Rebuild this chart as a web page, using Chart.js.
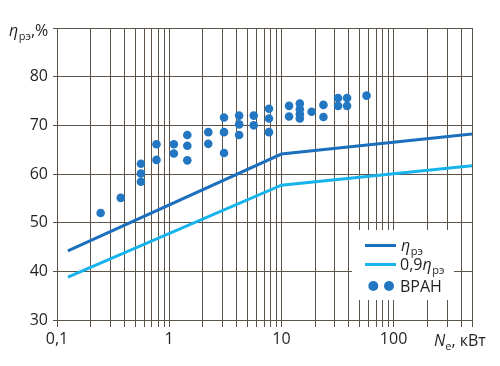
<!DOCTYPE html>
<html>
<head>
<meta charset="utf-8">
<script src="https://cdn.jsdelivr.net/npm/chart.js@4/dist/chart.umd.min.js"></script>
<style>
  html, body { margin: 0; padding: 0; background: #fff; }
  #wrap { width: 500px; height: 366px; }
</style>
</head>
<body>
<div id="wrap"><canvas id="chart" width="500" height="366"></canvas></div>
<script>
// efficiency lines (straight on log x), Ne in kW
const etaX = [0.125, 10, 500];
const etaY = [44.2, 64.1, 68.2];
const eta09X = [0.125, 10, 500];
const eta09Y = [38.8, 57.7, 61.7];

// ВРАН measured points
const vranX = [0.245, 0.37, 0.56, 0.56, 0.56, 0.77, 0.77, 1.1, 1.1, 1.45, 1.45, 1.45,
  2.23, 2.23, 3.08, 3.08, 3.08, 4.2, 4.2, 4.2, 5.67, 5.67, 7.75, 7.75, 7.75,
  11.7, 11.7, 14.6, 14.6, 14.6, 14.6, 18.6, 23.7, 23.7, 32, 32, 38.5, 38.5, 57.4];
const vranY = [52.0, 55.1, 62.1, 60.1, 58.4, 66.1, 62.9, 66.1, 64.2, 68.0, 65.8, 62.8,
  68.6, 66.2, 71.6, 68.6, 64.3, 72.0, 70.2, 68.0, 72.0, 70.0, 73.4, 71.4, 68.6,
  74.0, 71.8, 74.5, 73.3, 72.3, 71.4, 72.8, 74.2, 71.7, 75.6, 74.0, 75.6, 74.0, 76.1];

// axis ticks
const xTicks = [0.1, 0.2, 0.3, 0.4, 0.5, 0.6, 0.7, 0.8, 0.9,
  1, 2, 3, 4, 5, 6, 7, 8, 9,
  10, 20, 30, 40, 50, 60, 70, 80, 90,
  100, 200, 300, 400, 500];
const xLabels = { 0.1: "0,1", 1: "1", 10: "10", 100: "100" };
const yLabels = [30, 40, 50, 60, 70, 80];

const gridColor = "#5c5349";
const textColor = "#231f20";
const darkBlue = "#1b6fbd";
const lightBlue = "#16b3ec";
const dotColor = "#2276c2";
const FONT = '"Open Sans", sans-serif';

function pairs(xs, ys) { return xs.map((x, i) => ({ x, y: ys[i] })); }

// draws "η" italic followed by subscript "рэ", returns end x
function drawEta(ctx, x, y, size) {
  ctx.font = "italic " + size + "px " + FONT;
  ctx.fillText("η", x, y);
  x += ctx.measureText("η").width + 0.5;
  const sub = Math.round(size * 0.66);
  ctx.font = sub + "px " + FONT;
  ctx.fillText("рэ", x, y + size * 0.25);
  return x + ctx.measureText("рэ").width;
}

const extras = {
  id: "extras",
  afterDraw(chart) {
    const ctx = chart.ctx;
    ctx.save();
    ctx.fillStyle = textColor;
    ctx.textBaseline = "alphabetic";
    ctx.textAlign = "left";

    // y title
    let x = drawEta(ctx, 9, 36, 16);
    ctx.font = "16px " + FONT;
    ctx.fillText(",%", x, 36);

    // x title
    ctx.font = "italic 16px " + FONT;
    ctx.fillText("N", 434, 346);
    x = 434 + ctx.measureText("N").width;
    ctx.font = "11px " + FONT;
    ctx.fillText("e", x, 350);
    x += ctx.measureText("e").width;
    ctx.font = "16px " + FONT;
    ctx.fillText(", кВт", x, 346);

    // legend inside plot
    ctx.fillStyle = "#fff";
    ctx.fillRect(352, 230, 102, 70);
    ctx.lineWidth = 3;
    ctx.strokeStyle = darkBlue;
    ctx.beginPath(); ctx.moveTo(365, 245.5); ctx.lineTo(396, 245.5); ctx.stroke();
    ctx.strokeStyle = lightBlue;
    ctx.beginPath(); ctx.moveTo(365, 264.5); ctx.lineTo(396, 264.5); ctx.stroke();
    ctx.fillStyle = dotColor;
    [373.3, 389].forEach(cx => {
      ctx.beginPath(); ctx.arc(cx, 286, 5, 0, Math.PI * 2); ctx.fill();
    });
    ctx.fillStyle = textColor;
    drawEta(ctx, 401, 251, 16);
    ctx.font = "16px " + FONT;
    ctx.fillText("0,9", 400, 270);
    drawEta(ctx, 400 + ctx.measureText("0,9").width, 270, 16);
    ctx.font = "16px " + FONT;
    ctx.fillText("ВРАН", 400, 292);
    ctx.restore();
  }
};

new Chart(document.getElementById("chart"), {
  type: "scatter",
  data: {
    datasets: [
      {
        label: "ВРАН",
        data: pairs(vranX, vranY),
        pointRadius: 4.3,
        pointBackgroundColor: dotColor,
        pointBorderWidth: 0
      },
      {
        label: "ηрэ",
        type: "line",
        data: pairs(etaX, etaY),
        borderColor: darkBlue,
        borderWidth: 3,
        pointRadius: 0,
        tension: 0
      },
      {
        label: "0,9ηрэ",
        type: "line",
        data: pairs(eta09X, eta09Y),
        borderColor: lightBlue,
        borderWidth: 3,
        pointRadius: 0,
        tension: 0
      }
    ]
  },
  options: {
    responsive: false,
    animation: false,
    devicePixelRatio: 1,
    layout: { padding: { top: 28, right: 28, left: 0, bottom: 0 } },
    plugins: { legend: { display: false }, tooltip: { enabled: false } },
    scales: {
      x: {
        type: "logarithmic",
        min: 0.1,
        max: 500,
        afterBuildTicks: s => { s.ticks = xTicks.map(v => ({ value: v })); },
        afterFit: s => { s.height = 46; },
        grid: { color: gridColor, lineWidth: 1, tickLength: 7, drawTicks: true },
        border: { color: gridColor },
        ticks: {
          autoSkip: false,
          maxRotation: 0,
          padding: 3,
          color: textColor,
          font: { family: FONT, size: 16 },
          callback: v => xLabels[v] || ""
        }
      },
      y: {
        min: 30,
        max: 90,
        afterBuildTicks: s => { s.ticks = yLabels.concat([90]).map(v => ({ value: v })); },
        afterFit: s => { s.width = 57; },
        grid: { color: gridColor, lineWidth: 1, tickLength: 4 },
        border: { color: gridColor },
        ticks: {
          padding: 5,
          color: textColor,
          font: { family: FONT, size: 16 },
          callback: v => (yLabels.includes(v) ? String(v) : "")
        }
      }
    }
  },
  plugins: [extras]
});
</script>
</body>
</html>
